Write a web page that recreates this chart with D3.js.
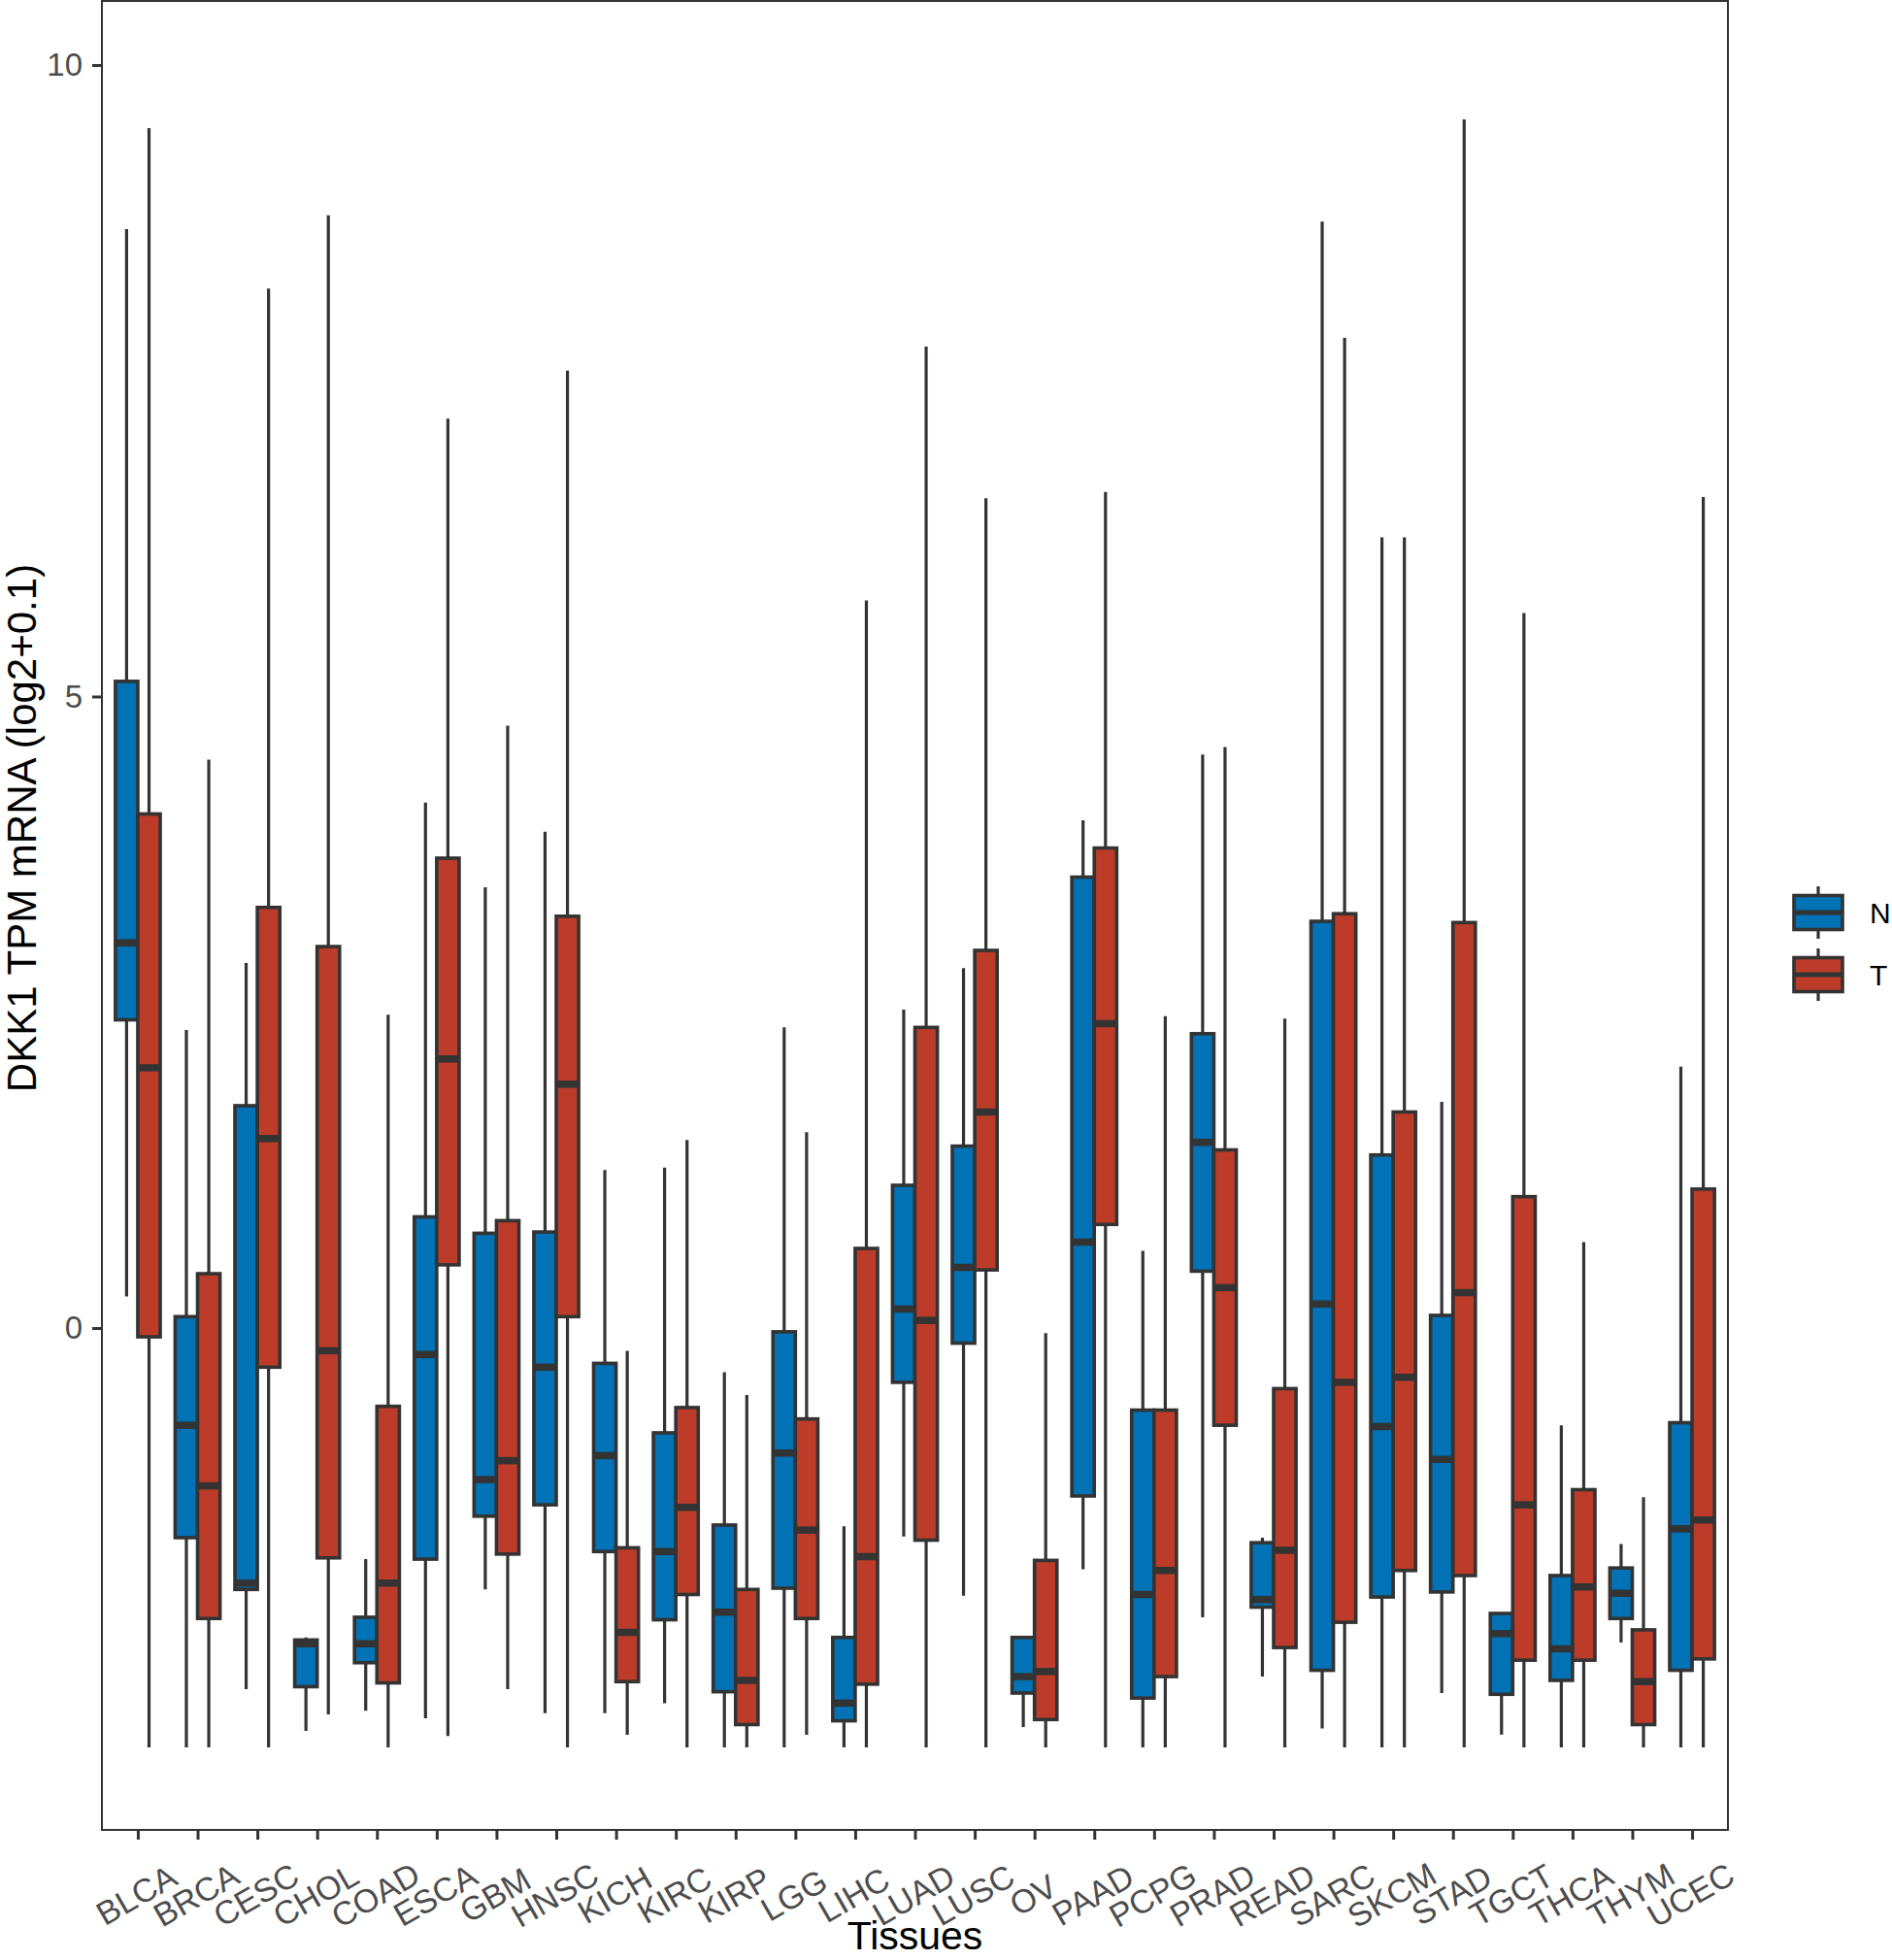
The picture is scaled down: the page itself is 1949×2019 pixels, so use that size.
<!DOCTYPE html>
<html>
<head>
<meta charset="utf-8">
<script src="https://cdnjs.cloudflare.com/ajax/libs/d3/7.8.5/d3.min.js"></script>
<style>
  body { margin: 0; background: #fff; }
  text { font-family: "Liberation Sans", Arial, sans-serif; }
</style>
</head>
<body>
<div id="chart"></div>
<script>
// tissue names on the x axis
var tissues = ["BLCA","BRCA","CESC","CHOL","COAD","ESCA","GBM","HNSC","KICH","KIRC","KIRP","LGG","LIHC",
  "LUAD","LUSC","OV","PAAD","PCPG","PRAD","READ","SARC","SKCM","STAD","TGCT","THCA","THYM","UCEC"];

var groups = ["N", "T"];

// box stats per tissue: [whisker low, q1, median, q3, whisker high]
var normalStats = [
  [0.25, 2.44, 3.05, 5.12, 8.70],
  [-3.32, -1.66, -0.77, 0.09, 2.36],
  [-2.86, -2.07, -2.02, 1.76, 2.89],
  [-3.19, -2.84, -2.50, -2.47, -2.45],
  [-3.03, -2.65, -2.50, -2.29, -1.83],
  [-3.09, -1.83, -0.21, 0.88, 4.16],
  [-2.07, -1.49, -1.20, 0.75, 3.49],
  [-3.05, -1.40, -0.31, 0.76, 3.93],
  [-3.05, -1.77, -1.01, -0.28, 1.25],
  [-2.97, -2.31, -1.77, -0.83, 1.27],
  [-3.32, -2.88, -2.25, -1.56, -0.35],
  [-3.32, -2.06, -0.99, -0.03, 2.38],
  [-3.32, -3.11, -2.97, -2.45, -1.57],
  [-1.65, -0.43, 0.15, 1.13, 2.52],
  [-2.12, -0.12, 0.48, 1.44, 2.85],
  [-3.16, -2.89, -2.76, -2.45, -2.45],
  [-1.91, -1.33, 0.68, 3.57, 4.02],
  [-3.32, -2.93, -2.11, -0.65, 0.61],
  [-2.29, 0.45, 1.47, 2.33, 4.54],
  [-2.76, -2.21, -2.15, -1.70, -1.66],
  [-3.17, -2.71, 0.19, 3.22, 8.76],
  [-3.32, -2.13, -0.78, 1.37, 6.26],
  [-2.89, -2.09, -1.04, 0.10, 1.79],
  [-3.22, -2.90, -2.42, -2.26, -2.26],
  [-3.32, -2.79, -2.54, -1.96, -0.77],
  [-2.49, -2.30, -2.10, -1.90, -1.71],
  [-3.32, -2.71, -1.59, -0.75, 2.07]
];

var tumorStats = [
  [-3.32, -0.07, 2.06, 4.07, 9.50],
  [-3.32, -2.30, -1.25, 0.43, 4.50],
  [-3.32, -0.31, 1.50, 3.33, 8.23],
  [-3.06, -1.82, -0.18, 3.02, 8.81],
  [-3.32, -2.81, -2.02, -0.62, 2.48],
  [-3.23, 0.50, 2.13, 3.72, 7.20],
  [-2.86, -1.79, -1.05, 0.85, 4.77],
  [-3.32, 0.09, 1.93, 3.26, 7.58],
  [-3.22, -2.80, -2.41, -1.74, -0.18],
  [-3.32, -2.11, -1.42, -0.63, 1.49],
  [-3.32, -3.14, -2.79, -2.07, -0.53],
  [-3.22, -2.30, -1.60, -0.72, 1.55],
  [-3.32, -2.82, -1.81, 0.63, 5.76],
  [-3.32, -1.68, 0.06, 2.38, 7.77],
  [-3.32, 0.46, 1.71, 2.99, 6.57],
  [-3.32, -3.10, -2.72, -1.84, -0.04],
  [-3.32, 0.82, 2.41, 3.80, 6.62],
  [-3.32, -2.76, -1.92, -0.65, 2.47],
  [-3.32, -0.77, 0.32, 1.41, 4.60],
  [-3.32, -2.53, -1.76, -0.48, 2.45],
  [-3.32, -2.33, -0.43, 3.28, 7.84],
  [-3.32, -1.92, -0.39, 1.71, 6.26],
  [-3.32, -1.96, 0.28, 3.21, 9.57],
  [-3.32, -2.63, -1.40, 1.04, 5.66],
  [-3.32, -2.63, -2.05, -1.28, 0.68],
  [-3.32, -3.14, -2.80, -2.39, -1.34],
  [-3.32, -2.62, -1.52, 1.10, 6.58]
];

var yTicks = [0, 5, 10];
var yDomain = [-3.974, 10.507];

var width = 1949, height = 2019;
var panel = { left: 105, right: 1780, top: 1, bottom: 1885 };

var x = d3.scalePoint()
    .domain(tissues)
    .range([panel.left, panel.right])
    .padding(0.6);

var y = d3.scaleLinear()
    .domain(yDomain)
    .range([panel.bottom, panel.top]);

var color = d3.scaleOrdinal()
    .domain(groups)
    .range(["#0072B5", "#BC3C29"]);

var lineCol = "#333333";

// flatten into one record per box
var boxes = [];
tissues.forEach((t, i) => {
  boxes.push({ tissue: t, group: "N", s: normalStats[i] });
  boxes.push({ tissue: t, group: "T", s: tumorStats[i] });
});

var svg = d3.select("#chart").append("svg")
    .attr("width", width)
    .attr("height", height)
    .style("display", "block");

svg.append("rect")
    .attr("width", width).attr("height", height)
    .attr("fill", "#fff");

var step = x.step();
var boxW = step * 0.375;
var cx = d => x(d.tissue) + (d.group === "N" ? -boxW / 2 : boxW / 2);

var g = svg.append("g");

// whiskers
g.selectAll(".whisker")
  .data(boxes)
  .enter()
  .append("line")
    .attr("x1", cx).attr("x2", cx)
    .attr("y1", d => y(d.s[0]))
    .attr("y2", d => y(d.s[4]))
    .attr("stroke", lineCol)
    .attr("stroke-width", 3.2);

// boxes
g.selectAll(".box")
  .data(boxes)
  .enter()
  .append("rect")
    .attr("x", d => cx(d) - boxW / 2)
    .attr("width", boxW)
    .attr("y", d => y(d.s[3]))
    .attr("height", d => Math.max(0, y(d.s[1]) - y(d.s[3])))
    .attr("fill", d => color(d.group))
    .attr("stroke", lineCol)
    .attr("stroke-width", 3.6);

// medians
g.selectAll(".median")
  .data(boxes)
  .enter()
  .append("line")
    .attr("x1", d => cx(d) - boxW / 2)
    .attr("x2", d => cx(d) + boxW / 2)
    .attr("y1", d => y(d.s[2]))
    .attr("y2", d => y(d.s[2]))
    .attr("stroke", lineCol)
    .attr("stroke-width", 7.5);

// panel border
svg.append("rect")
    .attr("x", panel.left).attr("y", panel.top)
    .attr("width", panel.right - panel.left)
    .attr("height", panel.bottom - panel.top)
    .attr("fill", "none")
    .attr("stroke", lineCol)
    .attr("stroke-width", 2);

// y axis
var yAxis = svg.append("g")
    .attr("transform", "translate(" + panel.left + ",0)")
    .call(d3.axisLeft(y).tickValues(yTicks).tickSize(10).tickPadding(10));
yAxis.select(".domain").remove();
yAxis.selectAll("line").attr("stroke", lineCol).attr("stroke-width", 3);
yAxis.selectAll("text")
    .attr("fill", "#4D4D4D")
    .style("font-size", "33px")
    .style("font-family", "'Liberation Sans', Arial, sans-serif");

// x axis
var xAxis = svg.append("g")
    .attr("transform", "translate(0," + panel.bottom + ")")
    .call(d3.axisBottom(x).tickSize(10));
xAxis.select(".domain").remove();
xAxis.selectAll("line").attr("stroke", lineCol).attr("stroke-width", 3);
xAxis.selectAll("text")
    .attr("y", 0).attr("dy", null)
    .attr("fill", "#4D4D4D")
    .attr("text-anchor", "middle")
    .attr("dominant-baseline", "central")
    .attr("transform", "translate(-2,67) rotate(-30)")
    .style("font-size", "34px")
    .style("font-family", "'Liberation Sans', Arial, sans-serif");

// axis titles
svg.append("text")
    .attr("x", (panel.left + panel.right) / 2)
    .attr("y", 2008)
    .attr("text-anchor", "middle")
    .attr("fill", "#000")
    .style("font-size", "41px")
    .text("Tissues");

svg.append("text")
    .attr("transform", "translate(37,853) rotate(-90)")
    .attr("text-anchor", "middle")
    .attr("fill", "#000")
    .style("font-size", "42px")
    .text("DKK1 TPM mRNA (log2+0.1)");

// legend
var legend = svg.append("g")
    .selectAll("g")
    .data(groups)
    .enter()
    .append("g")
    .attr("transform", (d, i) => "translate(1873," + (940 + i * 64) + ")");

legend.append("line")
    .attr("y1", -27).attr("y2", 27)
    .attr("stroke", lineCol).attr("stroke-width", 3.2);
legend.append("rect")
    .attr("x", -25).attr("y", -17.5)
    .attr("width", 50).attr("height", 35)
    .attr("fill", d => color(d))
    .attr("stroke", lineCol).attr("stroke-width", 3.6);
legend.append("line")
    .attr("x1", -25).attr("x2", 25)
    .attr("stroke", lineCol).attr("stroke-width", 5);
legend.append("text")
    .attr("x", 53)
    .attr("dominant-baseline", "central")
    .attr("fill", "#000")
    .style("font-size", "30px")
    .text(d => d);
</script>
</body>
</html>
